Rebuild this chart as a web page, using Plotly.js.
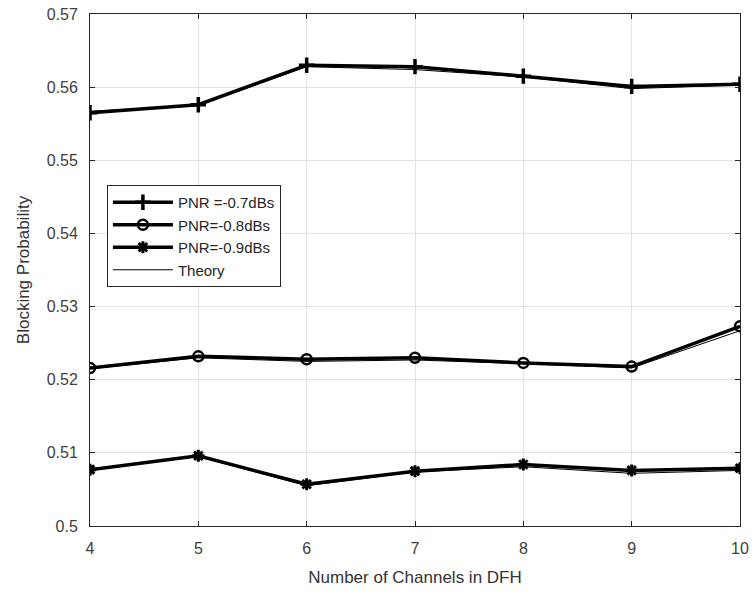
<!DOCTYPE html>
<html>
<head>
<meta charset="utf-8">
<script src="https://cdn.plot.ly/plotly-3.0.1.min.js"></script>
<style>html,body{margin:0;padding:0;background:#fff;}#chart{width:755px;height:597px;}</style>
</head>
<body>
<div id="chart"></div>
<script>
const channels = [4, 5, 6, 7, 8, 9, 10];
const sim07 = [0.5565, 0.5576, 0.5630, 0.5628, 0.5615, 0.5601, 0.5604];
const sim08 = [0.5216, 0.5232, 0.5228, 0.5230, 0.5223, 0.5218, 0.5273];
const sim09 = [0.5077, 0.5096, 0.5057, 0.5075, 0.5084, 0.5076, 0.5079];
const th07 = [0.5567, 0.5575, 0.5628, 0.5624, 0.5614, 0.5598, 0.5603];
const th08 = [0.5215, 0.5230, 0.5225, 0.5227, 0.5222, 0.5216, 0.5267];
const th09 = [0.5078, 0.5095, 0.5055, 0.5074, 0.5081, 0.5072, 0.5076];
const names = ['PNR =-0.7dBs', 'PNR=-0.8dBs', 'PNR=-0.9dBs', 'Theory'];

const thick = {color: '#000', width: 3.5};
const thin = {color: '#000', width: 1};
const traces = [
  {x: channels, y: sim07, name: names[0], mode: 'lines+markers', line: thick,
   marker: {symbol: 'cross-thin-open', size: 11, color: '#000', line: {color: '#000', width: 3.5}}},
  {x: channels, y: sim08, name: names[1], mode: 'lines+markers', line: thick,
   marker: {symbol: 'circle-open', size: 10, color: '#000', line: {color: '#000', width: 2.5}}},
  {x: channels, y: sim09, name: names[2], mode: 'lines+markers', line: thick,
   marker: {symbol: 'asterisk-open', size: 10, color: '#000', line: {color: '#000', width: 3}}},
  {x: channels, y: th07, name: names[3], mode: 'lines', line: thin, legendgroup: 'th'},
  {x: channels, y: th08, name: names[3], mode: 'lines', line: thin, legendgroup: 'th', showlegend: false},
  {x: channels, y: th09, name: names[3], mode: 'lines', line: thin, legendgroup: 'th', showlegend: false}
];

const axisCommon = {
  showline: true, linecolor: '#262626', linewidth: 1, mirror: 'ticks',
  ticks: 'inside', ticklen: 5, tickcolor: '#262626',
  showgrid: true, gridcolor: '#e3e3e3', gridwidth: 1, zeroline: false,
  tickfont: {family: 'Liberation Sans, Arial, sans-serif', size: 16, color: '#404040'}
};

const layout = {
  width: 755, height: 597,
  margin: {l: 90, r: 15, t: 14, b: 71},
  paper_bgcolor: '#fff', plot_bgcolor: '#fff',
  font: {family: 'Liberation Sans, Arial, sans-serif', color: '#262626'},
  showlegend: true,
  xaxis: Object.assign({}, axisCommon, {
    range: [4, 10], dtick: 1, tick0: 4, ticklabelstandoff: 8,
    title: {text: 'Number of Channels in DFH', font: {size: 17, color: '#333'}, standoff: 14}
  }),
  yaxis: Object.assign({}, axisCommon, {
    range: [0.5, 0.57], dtick: 0.01, tick0: 0.5, ticklabelstandoff: 8,
    tickformat: '~r',
    title: {text: 'Blocking Probability', font: {size: 17, color: '#333'}, standoff: 12}
  }),
  legend: {
    x: 0.026, y: 0.666, xanchor: 'left', yanchor: 'top',
    bgcolor: '#fff', bordercolor: '#262626', borderwidth: 1,
    font: {size: 15, color: '#262626'}, itemwidth: 60,
    tracegroupgap: 0
  }
};

Plotly.newPlot('chart', traces, layout, {displayModeBar: false, staticPlot: true});
</script>
</body>
</html>
